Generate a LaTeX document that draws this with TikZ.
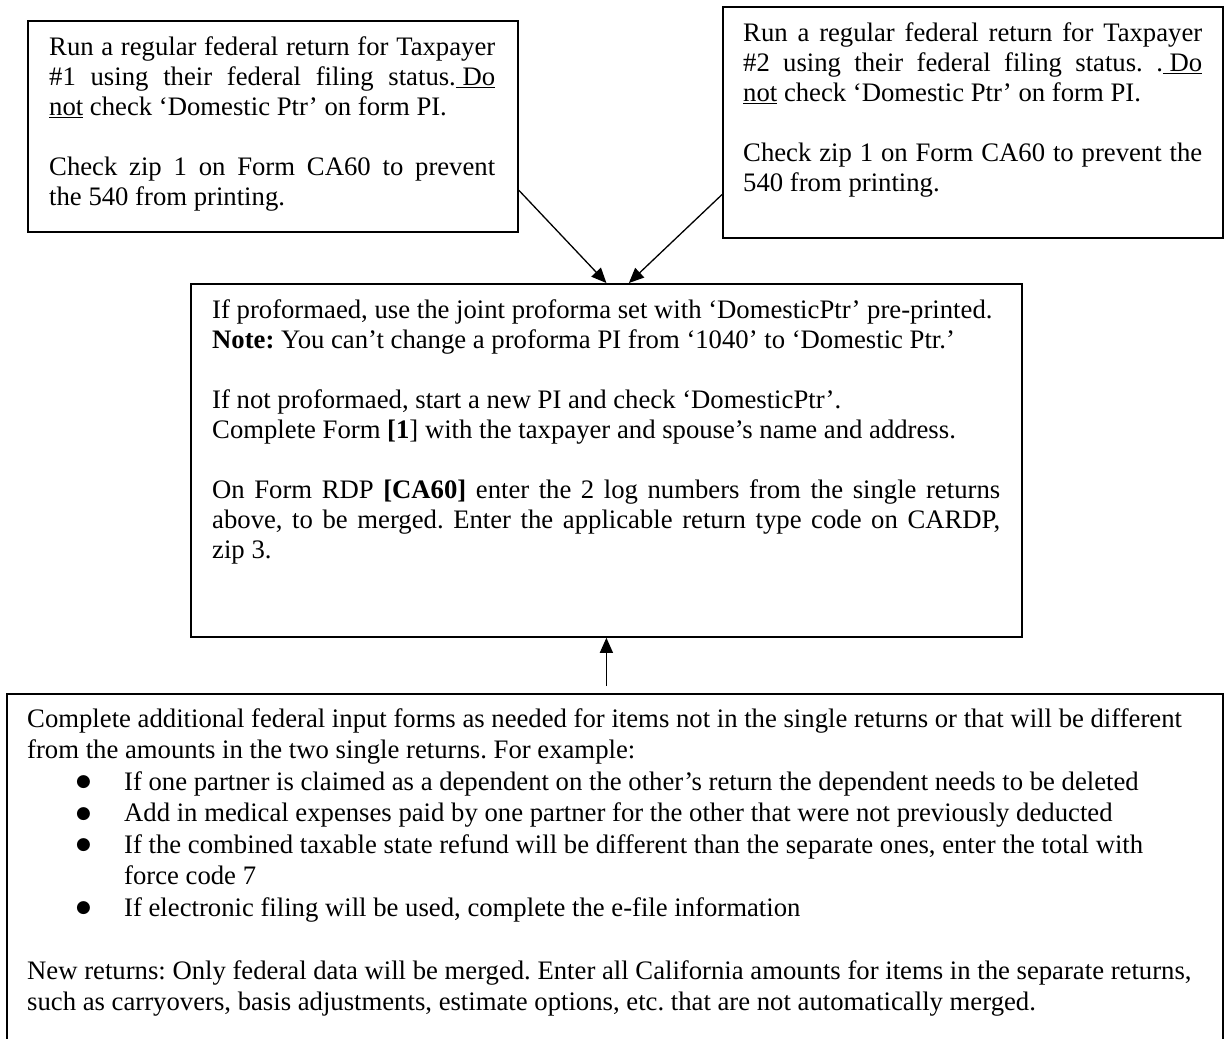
\documentclass[tikz,border=0pt]{standalone}
\usepackage{fontspec}
\setmainfont{Liberation Serif}
\newfontfamily\bulletfont{DejaVu Sans}
\usetikzlibrary{arrows.meta,calc}
\setlength{\parindent}{0pt}
\newcommand\jline[2]{\makebox[#1][s]{#2}}
\newcommand\bul{\hspace*{49pt}\makebox[48pt][l]{\raisebox{3.5pt}{\bulletfont\fontsize{17}{17}\selectfont ●}}}
\begin{document}
\begin{tikzpicture}[x=1pt,y=-1pt,
  box/.style={draw,line width=1.8pt,rectangle,inner sep=0pt,anchor=north west},
  txt/.style={anchor=north west,inner sep=0pt,align=left,font=\fontsize{26.7}{30}\selectfont\frenchspacing},
  btxt/.style={anchor=north west,inner sep=0pt,align=left,font=\fontsize{26.7}{31.5}\selectfont\frenchspacing},
  arr/.style={-{Triangle[length=15pt,width=13pt]},line width=1.3pt}]
\useasboundingbox (0,0) rectangle (1225,1038);
\clip (0,0) rectangle (1225,1038);
\fill[white] (0,0) rectangle (1225,1038);

% boxes
\node[box,minimum width=490pt,minimum height=211pt] (b1) at (27,20) {};
\node[box,minimum width=500pt,minimum height=231pt] (b2) at (722,6) {};
\node[box,minimum width=831pt,minimum height=353pt] (cen) at (190,283) {};
\node[box,minimum width=1216pt,minimum height=360pt] (bot) at (6,693) {};

% texts
\node[txt] (t1) at (49,34) {\strut\jline{446pt}{Run a regular federal return for Taxpayer}\\
\jline{446pt}{\#1 using their federal filing status.\underline{\ Do}}\\
\underline{not} check ‘Domestic Ptr’ on form PI.\\[30pt]
\jline{446pt}{Check zip 1 on Form CA60 to prevent}\\
the 540 from printing.};

\node[txt] (t2) at (743,20.5) {\strut\jline{459pt}{Run a regular federal return for Taxpayer}\\
\jline{459pt}{\#2 using their federal filing status. .\underline{\ Do}}\\
\underline{not} check ‘Domestic Ptr’ on form PI.\\[30pt]
\jline{459pt}{Check zip 1 on Form CA60 to prevent the}\\
540 from printing.};

\node[txt] (tc) at (212,297) {\strut If proformaed, use the joint proforma set with ‘DomesticPtr’ pre-printed.\\
\textbf{Note:} You can’t change a proforma PI from ‘1040’ to ‘Domestic Ptr.’\\[30pt]
If not proformaed, start a new PI and check ‘DomesticPtr’.\\
Complete Form \textbf{[1}] with the taxpayer and spouse’s name and address.\\[30pt]
\jline{788pt}{On Form RDP \textbf{[CA60]} enter the 2 log numbers from the single returns}\\
\jline{788pt}{above, to be merged. Enter the applicable return type code on CARDP,}\\
zip 3.};

\node[btxt] (tb) at (27,705) {\strut Complete additional federal input forms as needed for items not in the single returns or that will be different\\
from the amounts in the two single returns. For example:\\
\bul If one partner is claimed as a dependent on the other’s return the dependent needs to be deleted\\
\bul Add in medical expenses paid by one partner for the other that were not previously deducted\\
\bul If the combined taxable state refund will be different than the separate ones, enter the total with\\
\hspace*{97pt}force code 7\\
\bul If electronic filing will be used, complete the e-file information\\[31.5pt]
New returns: Only federal data will be merged. Enter all California amounts for items in the separate returns,\\
such as carryovers, basis adjustments, estimate options, etc. that are not automatically merged.};

% connectors
\draw[arr] ($(b1.north east)!0.8!(b1.south east)$) -- (cen.north);
\draw[arr] ($(b2.north west)!0.81!(b2.south west)$) -- ($(cen.north west)!0.527!(cen.north east)$);
\draw[arr,shorten <=7pt] (cen.south |- bot.north) -- (cen.south);
\end{tikzpicture}
\end{document}
